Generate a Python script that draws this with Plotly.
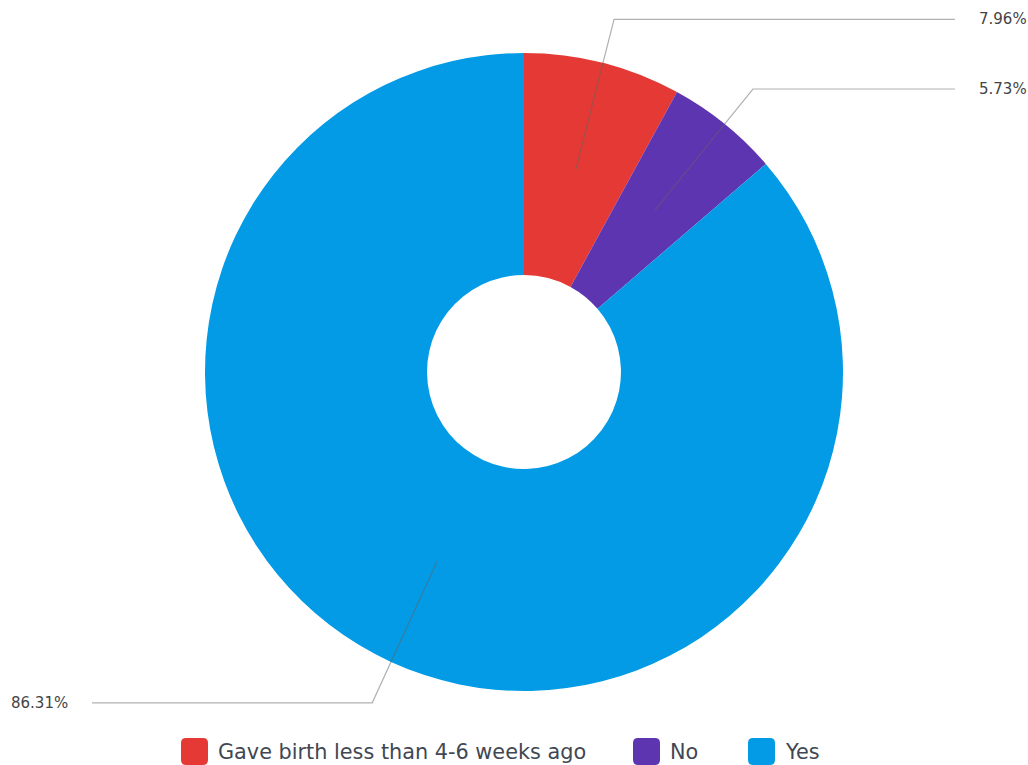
import math
import plotly.graph_objects as go

# Survey answer shares (percent)
categories = ["Gave birth less than 4-6 weeks ago", "No", "Yes"]
shares = [7.96, 5.73, 86.31]
colors = ["#E53935", "#5E35B1", "#039BE5"]

W, H = 1028, 765
CX, CY = 524, 372          # ring centre, pixels from top-left
R_OUT = 319                # outer radius, pixels
HOLE = 0.304               # inner/outer radius ratio
R_ELBOW = R_OUT + 45       # where leader lines turn horizontal
LINE_END_RIGHT, LINE_END_LEFT = 955, 92
LABEL_GAP = 22
FONT = "DejaVu Sans, sans-serif"

# legend layout: key left edge for each item, key size
LEGEND_X = [181, 633, 748]
LEGEND_TOP = 738
KEY = 27


def px(x):
    return x / W


def py(y):
    return 1 - y / H


fig = go.Figure()

fig.add_trace(go.Pie(
    labels=categories,
    values=shares,
    marker=dict(colors=colors, line=dict(width=0)),
    hole=HOLE,
    sort=False,
    direction="clockwise",
    rotation=0,
    textinfo="none",
    hoverinfo="label+percent",
    showlegend=False,
    domain=dict(x=[px(CX - R_OUT), px(CX + R_OUT)],
                y=[py(CY + R_OUT), py(CY - R_OUT)]),
))

shapes = []
annotations = []

# leader lines from the middle of each ring segment out to its label
total = sum(shares)
r_mid = R_OUT * (1 + HOLE) / 2
acc = 0.0
for cat, val in zip(categories, shares):
    mid = (acc + val / 2) / total * 2 * math.pi
    acc += val
    sx, sy = CX + r_mid * math.sin(mid), CY - r_mid * math.cos(mid)
    ex, ey = CX + R_ELBOW * math.sin(mid), CY - R_ELBOW * math.cos(mid)
    right = math.sin(mid) >= 0
    hx = LINE_END_RIGHT if right else LINE_END_LEFT
    path = (f"M{px(sx)},{py(sy)} L{px(ex)},{py(ey)} L{px(hx)},{py(ey)}")
    shapes.append(dict(type="path", path=path, xref="paper", yref="paper",
                       line=dict(color="rgba(100,100,100,0.5)", width=1.2),
                       layer="above"))
    annotations.append(dict(
        x=px(hx + LABEL_GAP if right else hx - LABEL_GAP), y=py(ey),
        xref="paper", yref="paper", showarrow=False,
        text=f"{val:.2f}%",
        xanchor="left" if right else "right", yanchor="middle",
        font=dict(family=FONT, size=15, color="#444444"),
    ))

# legend keys with rounded corners and their labels
for cat, col, lx in zip(categories, colors, LEGEND_X):
    r = 5
    x0, x1 = lx, lx + KEY
    y0, y1 = LEGEND_TOP, LEGEND_TOP + KEY
    path = (f"M{px(x0 + r)},{py(y0)} L{px(x1 - r)},{py(y0)} "
            f"Q{px(x1)},{py(y0)} {px(x1)},{py(y0 + r)} "
            f"L{px(x1)},{py(y1 - r)} Q{px(x1)},{py(y1)} {px(x1 - r)},{py(y1)} "
            f"L{px(x0 + r)},{py(y1)} Q{px(x0)},{py(y1)} {px(x0)},{py(y1 - r)} "
            f"L{px(x0)},{py(y0 + r)} Q{px(x0)},{py(y0)} {px(x0 + r)},{py(y0)} Z")
    shapes.append(dict(type="path", path=path, xref="paper", yref="paper",
                       fillcolor=col, line=dict(width=0), layer="above"))
    annotations.append(dict(
        x=px(x1 + 8), y=py(LEGEND_TOP + 14), xref="paper", yref="paper",
        showarrow=False, text=cat, xanchor="left", yanchor="middle",
        font=dict(family=FONT, size=20.8, color="#3f4852"),
    ))

fig.update_layout(
    width=W, height=H,
    margin=dict(l=0, r=0, t=0, b=0),
    paper_bgcolor="white",
    plot_bgcolor="white",
    shapes=shapes,
    annotations=annotations,
)

fig.write_html("out.html")
